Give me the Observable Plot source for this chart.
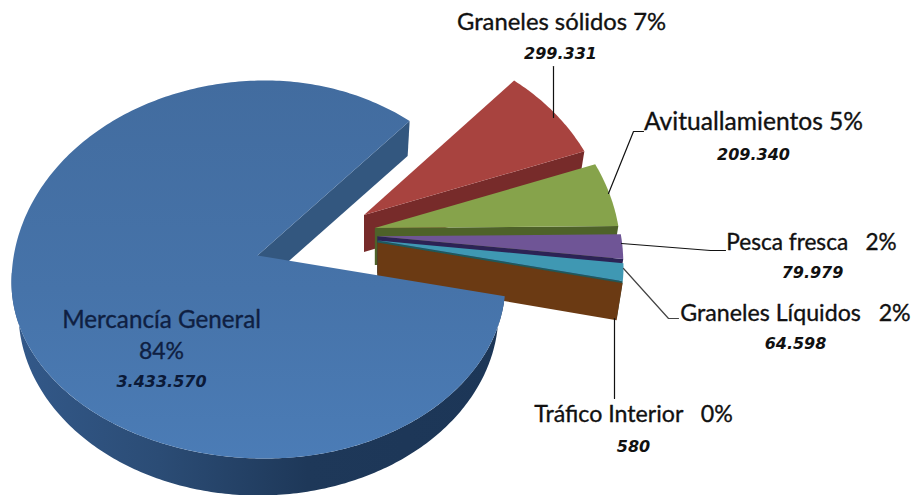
<!DOCTYPE html>
<html>
<head>
<meta charset="utf-8">
<script src="https://cdn.jsdelivr.net/npm/d3@7"></script>
<script src="https://cdn.jsdelivr.net/npm/@observablehq/plot@0.6"></script>
<style>html,body{margin:0;padding:0;background:#fff}svg{display:block}</style>
</head>
<body>
<div id="chart"></div>
<script>
// Data
const categories = ["Mercancía General","Graneles sólidos","Avituallamientos","Pesca fresca","Graneles Líquidos","Tráfico Interior"];
const values = [3433570,299331,209340,79979,64598,580];
const valueLabels = ["3.433.570","299.331","209.340","79.979","64.598","580"];
const percentLabels = ["84%","7%","5%","\u00a0 2%","\u00a0 2%","\u00a0 0%"];

// Styling
const faceColors = ["url(#faceBlue)","#a8433f","#86a34b","#6f5596","#3f98b3","#6b3a13"];
const wallColors = ["#33577f","#772b2a","#4e6229","#2c2355","#1e5a5c","#6b3a13"];

// Projection of the tilted pie
const W = 913, H = 495;
const startTurn = 4.5 * Math.PI / 180;
const pivot = {x: 257, y: 255};
const ring = {cx: 265, cy: 282, left: 254, right: 240, top: 202, bottom: 176};
const lowerRing = {cx: 258, cy: 312, left: 240, right: 240, top: 183, bottom: 183};
const onRing = (r, t) => ({
  x: r.cx + (Math.cos(t) < 0 ? r.left : r.right) * Math.cos(t),
  y: r.cy + (Math.sin(t) < 0 ? r.top : r.bottom) * Math.sin(t)
});
const explode = m => ({x: 60 + 58 * Math.cos(m), y: -16 + 38 * Math.sin(m)});
const arcPts = (r, a, b, o = {x: 0, y: 0}) => {
  const n = Math.max(2, Math.ceil(Math.abs(b - a) / 0.015));
  return d3.range(n + 1).map(i => {
    const p = onRing(r, a + (b - a) * i / n);
    return {x: p.x + o.x, y: p.y + o.y};
  });
};

const arcs = d3.pie().sort(null).startAngle(startTurn).endAngle(startTurn + 2 * Math.PI)(values);

const polygons = [];
// main slice: back wall of the cut-out, and the outer rim
{
  const a = arcs[0], endPt = onRing(ring, a.endAngle);
  polygons.push({fill: wallColors[0], points: [
    pivot, endPt, {x: endPt.x - 2, y: endPt.y + 35}, {x: pivot.x - 2, y: pivot.y + 35}
  ]});
  const rimEnd = Math.PI + 0.05;
  polygons.push({fill: "url(#rimBlue)", points: [
    ...arcPts(ring, a.startAngle, rimEnd),
    ...arcPts(lowerRing, rimEnd, a.startAngle)
  ]});
}
// exploded slices, back to front
arcs.slice(1).forEach((a, i) => {
  const k = i + 1, s = a.startAngle, e = a.endAngle, m = (s + e) / 2;
  const o = explode(m);
  const tip = {x: pivot.x + o.x + 2, y: pivot.y + o.y};
  const outer = arcPts(ring, s, e, o);
  const last = outer[outer.length - 1];
  polygons.push({fill: wallColors[k], points: [
    tip, last, {x: last.x - 6, y: last.y + 37}, {x: tip.x, y: tip.y + 37}
  ]});
  polygons.push({fill: faceColors[k], points: [tip, ...outer]});
});
// main slice top face goes last, it overlaps the brown wall
polygons.push({fill: faceColors[0], points: [pivot, ...arcPts(ring, arcs[0].startAngle, arcs[0].endAngle)]});

// Label layout
const nameLayout = [
  {x: 161, y: 320, size: 24.2, fill: "#0f1f42"},
  {x: 561, y: 22, size: 23.8}, {x: 753, y: 122, size: 24.6}, {x: 811, y: 242, size: 22.6},
  {x: 795, y: 313, size: 23.2}, {x: 633, y: 414, size: 23.2}
];
const valueLayout = [
  {x: 161, y: 381, fill: "#0b1a38"},
  {x: 560, y: 53}, {x: 753, y: 154}, {x: 812, y: 272}, {x: 795, y: 343}, {x: 633, y: 446}
];
const names = categories.map((c, i) => ({
  ...nameLayout[i], text: i === 0 ? c : `${c} ${percentLabels[i]}`
}));
const amounts = valueLabels.map((v, i) => ({...valueLayout[i], text: v}));
const mainPct = [{x: 161, y: 351, text: percentLabels[0]}];

const leaders = [
  {color: "#111", points: [{x: 553, y: 66}, {x: 553, y: 117}]},
  {color: "#111", points: [{x: 643, y: 131}, {x: 633, y: 131}, {x: 608, y: 193}]},
  {color: "#111", points: [{x: 621, y: 243}, {x: 710, y: 250}, {x: 725, y: 250}]},
  {color: "#444", points: [{x: 623, y: 268}, {x: 668, y: 318}, {x: 678, y: 318}]},
  {color: "#111", points: [{x: 614, y: 318}, {x: 614, y: 398}]}
];

const defs = () => {
  const d = d3.create("svg:defs");
  const grad = (id, x2, y2, stops) => {
    const g = d.append("linearGradient").attr("id", id)
      .attr("x1", 0).attr("y1", 0).attr("x2", x2).attr("y2", y2);
    stops.forEach(([o, c]) => g.append("stop").attr("offset", o).attr("stop-color", c));
  };
  grad("faceBlue", 0, 1, [[0, "#426c9f"], [0.55, "#4673a9"], [1, "#4b7cb6"]]);
  grad("rimBlue", 1, 0, [[0, "#33598a"], [0.3, "#2b4c75"], [0.6, "#1e3859"], [1, "#1c3657"]]);
  return d.node();
};

const textOpts = {x: "x", y: "y", text: "text", textAnchor: "middle", lineAnchor: "middle"};
const chart = Plot.plot({
  width: W, height: H,
  margin: 0,
  style: {background: "#fff"},
  x: {domain: [0, W], range: [0, W], axis: null},
  y: {domain: [0, H], range: [0, H], axis: null},
  marks: [
    defs,
    ...polygons.map(p => Plot.line(p.points, {x: "x", y: "y", fill: p.fill, stroke: "none"})),
    ...leaders.map(l => Plot.line(l.points, {x: "x", y: "y", stroke: l.color, strokeWidth: 1.2})),
    Plot.text(names, {...textOpts, fill: d => d.fill || "#111", fontFamily: "Lato", fontSize: d => d.size, stroke: d => d.fill || "#111", strokeWidth: 0.35}),
    Plot.text(mainPct, {...textOpts, fill: "#0f1f42", fontFamily: "Lato", fontSize: 23, stroke: "#0f1f42", strokeWidth: 0.35}),
    Plot.text(amounts, {...textOpts, fill: d => d.fill || "#111", fontFamily: "DejaVu Sans", fontSize: 16, fontStyle: "italic", fontWeight: "bold"})
  ]
});
document.getElementById("chart").appendChild(chart);
</script>
</body>
</html>
